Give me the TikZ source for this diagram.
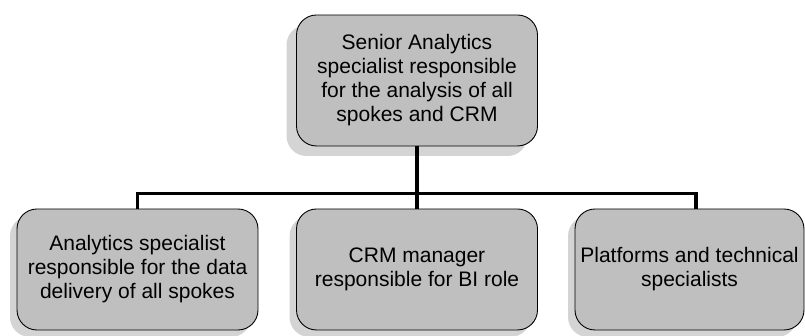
\documentclass[tikz,border=0pt]{standalone}
\usepackage{fontspec}
\setmainfont{Liberation Sans}
\usepackage{tikz}
\usetikzlibrary{shadows}

\begin{document}
\begin{tikzpicture}[-,line join=miter,node distance=189pt,
  box/.style={rectangle,rounded corners=20pt,fill=black!25,draw,line width=0.9pt,
    inner sep=0pt,align=center,font=\fontsize{21pt}{24pt}\selectfont,minimum width=241pt},
  top node/.style={box,minimum height=131pt,
    drop shadow={shadow xshift=-10pt,shadow yshift=-10pt,fill=black!17,opacity=1}},
  main node/.style={box,minimum height=121pt,
    drop shadow={shadow xshift=-7pt,shadow yshift=-7pt,fill=black!17,opacity=1}},
  link/.style={line width=3.3pt}]

  \useasboundingbox (0,0) rectangle (805pt,336pt);

  \node[top node] (1) at (417pt,255.5pt) {Senior Analytics\\specialist responsible\\for the analysis of all\\spokes and CRM};
  \node[main node] (3) [below of=1] {CRM manager\\responsible for BI role};
  \node[main node] (2) [left of=3,node distance=279.5pt] {Analytics specialist\\responsible for the data\\delivery of all spokes};
  \node[main node,minimum width=229pt] (4) [right of=3,node distance=272.5pt] {Platforms and technical\\specialists};

  \coordinate (bar) at (417pt,142.5pt);

  \draw[link] (1) -- (3);
  \draw[link] (2.north) |- (bar) -| ([xshift=6.5pt]4.north);
\end{tikzpicture}
\end{document}
